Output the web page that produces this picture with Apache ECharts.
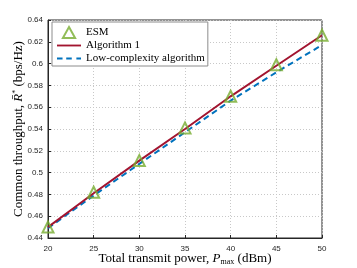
<!DOCTYPE html>
<html><head><meta charset="utf-8">
<script src="https://cdn.jsdelivr.net/npm/echarts@6/dist/echarts.min.js"></script>
<style>html,body{margin:0;padding:0;background:#fff}#c{width:357px;height:268px}</style>
</head><body><div id="c"></div>
<script>
const powers = [20, 25, 30, 35, 40, 45, 50];
const esm = [0.450, 0.482, 0.511, 0.541, 0.570, 0.599, 0.626];
const alg1 = [0.450, 0.481, 0.511, 0.540, 0.570, 0.598, 0.626];
const lowComplexity = [0.449, 0.479, 0.508, 0.537, 0.566, 0.592, 0.617];
const seriesNames = ['ESM', 'Algorithm 1', 'Low-complexity algorithm'];

const serif = '"Liberation Serif","DejaVu Serif",serif';
const sans = '"Liberation Sans",Arial,sans-serif';
const pair = a => powers.map((x, i) => [x, a[i]]);
const chart = echarts.init(document.getElementById('c'), null, {renderer: 'canvas'});
chart.setOption({
  animation: false,
  grid: {left: 48, right: 35, top: 20, bottom: 30, show: true, borderColor: '#262626', borderWidth: 1,
    containLabel: false, outerBoundsMode: 'none'},
  legend: {
    orient: 'vertical', left: 52, top: 22, itemGap: 0, itemWidth: 24, itemHeight: 11,
    backgroundColor: '#fff', borderColor: '#8c8c8c', borderWidth: 1, padding: [4, 3, 1, 5],
    symbolKeepAspect: true,
    textStyle: {fontFamily: serif, fontSize: 11, lineHeight: 13, color: '#000'},
    data: [
      {name: seriesNames[0], icon: 'path://M5,0L10,9L0,9Z'},
      {name: seriesNames[1], icon: 'path://M0,0H26V2H0Z'},
      {name: seriesNames[2], icon: 'path://M0,0H6V2H0Z M10,0H16V2H10Z M21,0H26V2H21Z'}
    ]
  },
  xAxis: {
    type: 'value', min: 20, max: 50, interval: 5,
    name: '{n|Total transmit power, }{i|P}{s|max}{n| (dBm)}', nameLocation: 'middle', nameGap: 13,
    nameMoveOverlap: false,
    nameTextStyle: {rich: {
      n: {fontFamily: serif, fontSize: 13, color: '#000'},
      i: {fontFamily: serif, fontSize: 13, fontStyle: 'italic', color: '#000'},
      s: {fontFamily: serif, fontSize: 8, color: '#000', verticalAlign: 'bottom', padding: [7, 0, 0, 0]}
    }},
    axisLine: {lineStyle: {color: '#262626'}},
    axisTick: {inside: true, length: 3, lineStyle: {color: '#262626'}},
    axisLabel: {fontFamily: sans, fontSize: 8, color: '#262626', margin: 7},
    splitLine: {lineStyle: {color: '#c8c8c8', type: [1, 2]}}
  },
  yAxis: {
    type: 'value', min: 0.44, max: 0.64, interval: 0.02,
    name: '{n|Common throughput, }{i|R̄}{s|*}{n| (bps/Hz)}', nameLocation: 'middle', nameGap: 23,
    nameMoveOverlap: false,
    nameTextStyle: {rich: {
      n: {fontFamily: serif, fontSize: 13, color: '#000'},
      i: {fontFamily: serif, fontSize: 13, fontStyle: 'italic', color: '#000'},
      s: {fontFamily: serif, fontSize: 8, color: '#000', verticalAlign: 'top', padding: [0, 0, 5, 0]}
    }},
    axisLine: {show: true, lineStyle: {color: '#262626'}},
    axisTick: {show: true, inside: true, length: 3, lineStyle: {color: '#262626'}},
    axisLabel: {fontFamily: sans, fontSize: 8, color: '#262626', margin: 5,
      formatter: v => String(Math.round(v * 100) / 100)},
    splitLine: {lineStyle: {color: '#c8c8c8', type: [1, 2]}}
  },
  series: [
    {name: seriesNames[1], type: 'line', data: pair(alg1), symbol: 'none', z: 3,
     lineStyle: {color: '#A2142F', width: 2}, itemStyle: {color: '#A2142F'}},
    {name: seriesNames[2], type: 'line', data: pair(lowComplexity), symbol: 'none', z: 2,
     lineStyle: {color: '#0072BD', width: 2, type: [6, 4]}, itemStyle: {color: '#0072BD'}},
    {name: seriesNames[0], type: 'scatter', data: pair(esm), symbol: 'triangle', symbolSize: 11, z: 4,
     itemStyle: {color: 'rgba(0,0,0,0)', borderColor: '#77AC30', borderWidth: 2}}
  ]
});
</script></body></html>
